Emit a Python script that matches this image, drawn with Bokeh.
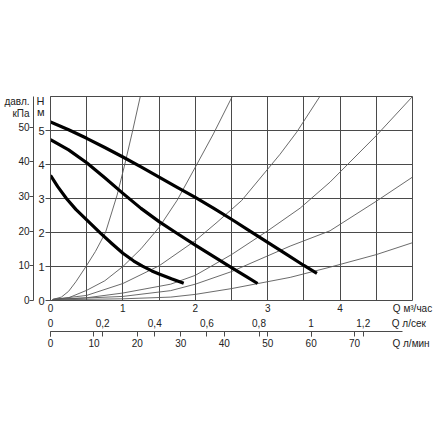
from bokeh.plotting import figure
from bokeh.models import Range1d, LinearAxis, FixedTicker, Grid
from bokeh.embed import file_html
from bokeh.resources import INLINE

# ---- pump curves: Q (m3/h) vs H (m) ----
q_high = [0, 0.25, 0.5, 0.75, 1.0, 1.25, 1.5, 1.75, 2.0, 2.25, 2.5, 2.75, 3.0, 3.25, 3.5, 3.68]
h_high = [5.25, 5.02, 4.77, 4.50, 4.22, 3.93, 3.63, 3.33, 3.03, 2.72, 2.39, 2.05, 1.71, 1.37, 1.03, 0.80]
q_mid = [0, 0.25, 0.5, 0.75, 1.0, 1.25, 1.5, 1.75, 2.0, 2.25, 2.5, 2.7, 2.86]
h_mid = [4.73, 4.43, 4.05, 3.61, 3.15, 2.71, 2.32, 1.97, 1.63, 1.30, 0.97, 0.71, 0.50]
q_low = [0, 0.1, 0.22, 0.35, 0.5, 0.69, 0.85, 1.0, 1.15, 1.27, 1.4, 1.5, 1.67, 1.84]
h_low = [3.68, 3.35, 3.00, 2.68, 2.37, 1.98, 1.67, 1.39, 1.16, 1.01, 0.87, 0.78, 0.64, 0.51]

# ---- system (resistance) curves ----
q_sa = [0.03, 0.15, 0.25, 0.35, 0.49, 0.62, 0.76, 0.92, 1.02, 1.13, 1.24]
h_sa = [0.03, 0.10, 0.27, 0.55, 1.00, 1.44, 2.00, 3.10, 3.95, 4.95, 6.00]
q_sb = [0.03, 0.25, 0.5, 0.75, 1.0, 1.25, 1.5, 1.75, 2.0, 2.25, 2.51]
h_sb = [0.03, 0.08, 0.30, 0.58, 1.00, 1.52, 2.15, 2.95, 3.92, 4.90, 6.00]
q_sc = [0.03, 0.5, 1.0, 1.5, 2.0, 2.3, 2.64, 3.17, 3.4, 3.72]
h_sc = [0.03, 0.15, 0.50, 1.02, 1.76, 2.30, 2.94, 4.30, 4.95, 6.00]
q_sd = [0.03, 0.5, 1.0, 1.66, 2.0, 2.5, 3.0, 3.45, 3.86, 4.5, 5.0]
h_sd = [0.03, 0.08, 0.22, 0.48, 0.74, 1.35, 2.05, 2.72, 3.48, 4.85, 6.00]
q_se = [0.03, 1.0, 1.66, 2.0, 2.5, 3.31, 3.86, 4.5, 5.0]
h_se = [0.03, 0.12, 0.29, 0.48, 0.85, 1.60, 2.05, 2.92, 3.63]
q_sf = [0.03, 1.0, 1.66, 2.0, 2.5, 3.31, 3.86, 4.5, 5.0]
h_sf = [0.02, 0.05, 0.10, 0.18, 0.35, 0.68, 0.98, 1.35, 1.70]

# ---- axes ticks / labels ----
m3h_ticks = [0, 1, 2, 3, 4, 5]
m3h_labels = ["0", "1", "2", "3", "4", "Q м³/час"]
h_marks = [0, 1, 2, 3, 4, 5]
h_ticks = [0, 1, 2, 3, 4, 5, 5.88, 5.53]
h_labels = ["0", "1", "2", "3", "4", "5", "H", "м"]
kpa_marks = [0, 10, 20, 30, 40, 50]
kpa_ticks = [0, 10, 20, 30, 40, 50, 57.4, 54.0]
kpa_labels = ["0", "10", "20", "30", "40", "50", "давл.", "кПа"]
ls_ticks = [0, 0.2, 0.4, 0.6, 0.8, 1.0, 1.2, 1.375]
ls_labels = ["0", "0,2", "0,4", "0,6", "0,8", "1", "1,2", "Q л/сек"]
ls_marks = [0, 12, 24, 36, 48, 60, 72]          # l/s ticks expressed in l/min
lm_ticks = [0, 10, 20, 30, 40, 50, 60, 70, 83]
lm_labels = ["0", "10", "20", "30", "40", "50", "60", "70", "Q л/мин"]
lm_marks = [0, 10, 20, 30, 40, 50, 60, 70]
grid_x = [0.5, 1, 1.5, 2, 2.5, 3, 3.5, 4, 4.5, 5]
grid_y = [1, 2, 3, 4, 5, 6]

Q_MAX = 5.0
H_MAX = 6.0
KPA_PER_M = 9.81

FONT = "Liberation Sans"
TXT = "#222222"
GRID = "#4a4a4a"
THIN = "#5a5a5a"

p = figure(frame_width=362, frame_height=204, output_backend="svg", toolbar_location=None,
           x_range=Range1d(0, Q_MAX), y_range=Range1d(0, H_MAX),
           x_axis_type=None, y_axis_type=None,
           min_border_left=50, min_border_right=28, min_border_top=96, min_border_bottom=64)
p.outline_line_color = GRID
p.outline_line_width = 1
p.background_fill_color = "white"
p.border_fill_color = "white"

p.extra_x_ranges = {"ls": Range1d(0, Q_MAX / 3.6), "lm": Range1d(0, Q_MAX * 1000 / 60)}
p.extra_y_ranges = {"kpa": Range1d(0, H_MAX * KPA_PER_M)}

def style_axis(ax, size="10px"):
    ax.major_label_text_font = FONT
    ax.major_label_text_font_size = size
    ax.major_label_text_color = TXT
    ax.axis_line_color = GRID
    ax.major_tick_line_color = GRID
    ax.minor_tick_line_color = None

def overrides(ticks, labels):
    return {t: s for t, s in zip(ticks, labels)}

# H axis (left, next to frame): labels as major ticks, marks as minor ticks
ay = LinearAxis(ticker=FixedTicker(ticks=h_ticks, minor_ticks=h_marks),
                major_label_overrides=overrides(h_ticks, h_labels))
style_axis(ay, "11px")
ay.major_tick_line_color = None
ay.major_tick_out = 0
ay.major_tick_in = 0
ay.minor_tick_line_color = GRID
ay.minor_tick_out = 5
ay.minor_tick_in = 0
ay.major_label_standoff = 1
p.add_layout(ay, "left")

# kPa axis
ak = LinearAxis(y_range_name="kpa", ticker=FixedTicker(ticks=kpa_ticks, minor_ticks=kpa_marks),
                major_label_overrides=overrides(kpa_ticks, kpa_labels))
style_axis(ak, "10px")
ak.major_tick_line_color = None
ak.major_tick_out = 0
ak.major_tick_in = 0
ak.minor_tick_line_color = GRID
ak.minor_tick_out = 4
ak.minor_tick_in = 0
ak.major_label_standoff = 0
p.add_layout(ak, "left")

# m3/h labels
ax1 = LinearAxis(ticker=FixedTicker(ticks=m3h_ticks),
                 major_label_overrides=overrides(m3h_ticks, m3h_labels))
style_axis(ax1)
ax1.axis_line_color = None
ax1.major_tick_line_color = None
ax1.major_tick_out = 0
ax1.major_tick_in = 0
ax1.major_label_standoff = 2
p.add_layout(ax1, "below")

# l/s labels
ax2 = LinearAxis(x_range_name="ls", ticker=FixedTicker(ticks=ls_ticks),
                 major_label_overrides=overrides(ls_ticks, ls_labels))
style_axis(ax2)
ax2.axis_line_color = None
ax2.major_tick_line_color = None
ax2.major_tick_out = 0
ax2.major_tick_in = 0
ax2.major_label_standoff = 1
p.add_layout(ax2, "below")

# spacer
sp = LinearAxis(x_range_name="lm", ticker=FixedTicker(ticks=[]))
sp.axis_line_color = None
sp.major_tick_line_color = None
sp.major_tick_out = 7
sp.major_tick_in = 0
sp.major_label_standoff = 0
p.add_layout(sp, "below")

# Q line with l/min ticks (down)
ax3 = LinearAxis(x_range_name="lm", ticker=FixedTicker(ticks=[], minor_ticks=lm_marks),
                 bounds=(0, 81))
ax3.axis_line_color = GRID
ax3.major_tick_line_color = None
ax3.major_tick_out = 0
ax3.major_tick_in = 0
ax3.minor_tick_line_color = GRID
ax3.minor_tick_out = 5
ax3.minor_tick_in = 0
ax3.major_label_standoff = 0
p.add_layout(ax3, "below")

# l/s ticks (up) on the same line
ax3b = LinearAxis(x_range_name="lm", ticker=FixedTicker(ticks=[], minor_ticks=ls_marks))
ax3b.axis_line_color = None
ax3b.major_tick_line_color = None
ax3b.major_tick_out = 0
ax3b.major_tick_in = 0
ax3b.minor_tick_line_color = GRID
ax3b.minor_tick_in = 5
ax3b.minor_tick_out = 0
ax3b.major_label_standoff = 0
p.add_layout(ax3b, "below")

# l/min labels
ax4 = LinearAxis(x_range_name="lm", ticker=FixedTicker(ticks=lm_ticks),
                 major_label_overrides=overrides(lm_ticks, lm_labels))
style_axis(ax4)
ax4.axis_line_color = None
ax4.major_tick_line_color = None
ax4.major_tick_out = 0
ax4.major_tick_in = 0
ax4.major_label_standoff = 1
p.add_layout(ax4, "below")

p.add_layout(Grid(dimension=0, ticker=FixedTicker(ticks=grid_x), grid_line_color=GRID, grid_line_width=1))
p.add_layout(Grid(dimension=1, ticker=FixedTicker(ticks=grid_y), grid_line_color=GRID, grid_line_width=1))

for qs, hs in [(q_sa, h_sa), (q_sb, h_sb), (q_sc, h_sc), (q_sd, h_sd), (q_se, h_se), (q_sf, h_sf)]:
    p.line(qs, hs, line_color=THIN, line_width=0.9, line_join="round")

for qs, hs in [(q_high, h_high), (q_mid, h_mid), (q_low, h_low)]:
    p.line(qs, hs, line_color="black", line_width=3.2, line_join="round")

open("out.html", "w").write(file_html(p, INLINE))
